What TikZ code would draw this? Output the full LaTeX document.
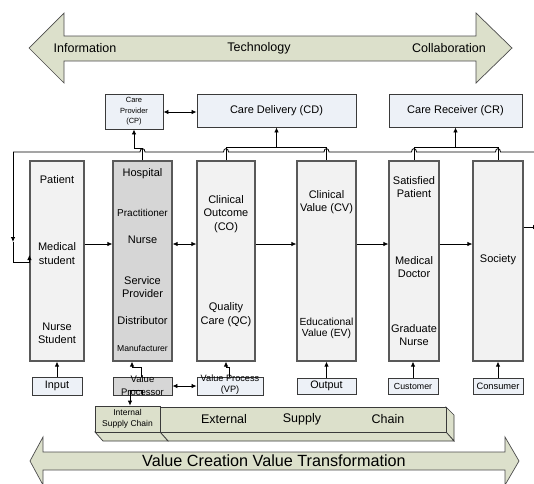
\documentclass[tikz,border=0pt]{standalone}
\usepackage{fontspec}
\setmainfont{Liberation Sans}
\usetikzlibrary{arrows.meta}
\definecolor{olivefill}{HTML}{DCE0CB}
\definecolor{colfill}{HTML}{F2F2F2}
\definecolor{grayfill}{HTML}{D6D6D6}
\definecolor{bluefill}{HTML}{EDF1F7}
\definecolor{edge}{HTML}{3A3A3A}
\tikzset{
  col/.style={draw=black!65, line width=1.2pt, fill=colfill, inner sep=0},
  gcol/.style={col, fill=grayfill},
  topbox/.style={draw=edge, line width=0.9pt, fill=bluefill, inner sep=0, align=center},
  botbox/.style={topbox},
  txt/.style={font=\fontsize{11}{13.5}\selectfont, align=center, inner sep=0},
  conn/.style={draw=black, line width=0.8pt},
  arr/.style={conn, -{Latex[length=5pt,width=4.5pt]}},
  arrtwo/.style={conn, {Latex[length=5pt,width=4.5pt]}-{Latex[length=5pt,width=4.5pt]}},
  bigarrow/.style={draw=black!70, line width=0.7pt, fill=olivefill},
}
\begin{document}
\begin{tikzpicture}[x=1pt,y=-1pt]
\useasboundingbox (0,0) rectangle (534,483);
% top big arrow
\draw[bigarrow] (29,48) -- (64,13) -- (64,36) -- (476,36) -- (476,13) -- (512,48) -- (476,83) -- (476,61) -- (64,61) -- (64,83) -- cycle;
\node[txt, font=\fontsize{12.5}{14}\selectfont] (info) at (85,48) {Information};
\node[txt, font=\fontsize{12.5}{14}\selectfont] (tech) at (259,48) {Technology};
\node[txt, font=\fontsize{12.5}{14}\selectfont] (collab) at (449,48) {Collaboration};
% top boxes
\node[topbox, minimum width=58, minimum height=35, font=\fontsize{7.5}{10.5}\selectfont] (cp) at (134,111.5) {Care\\Provider\\(CP)};
\node[topbox, minimum width=159, minimum height=33, font=\fontsize{11}{13}\selectfont] (cd) at (276.5,110.5) {Care Delivery (CD)};
\node[topbox, minimum width=133, minimum height=33, font=\fontsize{11}{13}\selectfont] (cr) at (455.5,110.5) {Care Receiver (CR)};
\draw[arrtwo] (cp.east |- 0,112) -- (cd.west |- 0,112);
% columns
\node[col, minimum width=54, minimum height=200] (pat) at (57,261) {};
\node[gcol, minimum width=59, minimum height=200] (hosp) at (142.5,261) {};
\node[col, minimum width=58, minimum height=200] (co) at (226,261) {};
\node[col, minimum width=59, minimum height=200] (cv) at (326.5,261) {};
\node[col, minimum width=50, minimum height=200] (sat) at (414,261) {};
\node[col, minimum width=50, minimum height=200] (soc) at (498,261) {};
% column texts
\node[txt] (t1) at (57,180) {Patient};
\node[txt] (t2) at (57,253.5) {Medical\\student};
\node[txt] (t3) at (57,333.5) {Nurse\\Student};
\node[txt] (t4) at (142.5,174) {Hospital};
\node[txt, font=\fontsize{10}{12}\selectfont] (t5) at (142.5,213) {Practitioner};
\node[txt] (t6) at (142.5,240) {Nurse};
\node[txt] (t7) at (142.5,287) {Service\\Provider};
\node[txt] (t8) at (142.5,321) {Distributor};
\node[txt, font=\fontsize{8.6}{10}\selectfont] (t9) at (142.5,348) {Manufacturer};
\node[txt] (t10) at (226,214) {Clinical\\Outcome\\(CO)};
\node[txt] (t11) at (226,314.5) {Quality\\Care (QC)};
\node[txt, font=\fontsize{11}{12.5}\selectfont] (t12) at (326.5,202) {Clinical\\Value (CV)};
\node[txt, font=\fontsize{10.3}{11.5}\selectfont] (t13) at (326.5,328.5) {Educational\\Value (EV)};
\node[txt] (t14) at (414,187) {Satisfied\\Patient};
\node[txt] (t15) at (414,267) {Medical\\Doctor};
\node[txt] (t16) at (414,335) {Graduate\\Nurse};
\node[txt] (t17) at (498,260) {Society};
% horizontal arrows between columns
\draw[arr] (pat.east |- 0,244) -- (hosp.west |- 0,244);
\draw[arrtwo] (hosp.east |- 0,244) -- (co.west |- 0,244);
\draw[arr] (co.east |- 0,244) -- (cv.west |- 0,244);
\draw[arr] (cv.east |- 0,244) -- (sat.west |- 0,244);
\draw[arr] (sat.east |- 0,244) -- (soc.west |- 0,244);
\coordinate (rightend) at (538,227);
\draw[arr] (soc.east |- 0,227) -- (rightend);
% bus line with hops
\coordinate (busleft) at (13,152);
\draw[conn] (busleft) -- (140,152) .. controls (140,147.5) and (145,147.5) .. (145,152)
  -- (223.5,152) .. controls (223.5,147.5) and (228.5,147.5) .. (228.5,152)
  -- (324,152) .. controls (324,147.5) and (329,147.5) .. (329,152)
  -- (411.5,152) .. controls (411.5,147.5) and (416.5,147.5) .. (416.5,152)
  -- (495.5,152) .. controls (495.5,147.5) and (500.5,147.5) .. (500.5,152)
  -- (536,152);
\coordinate (loopmid) at (13,242);
\draw[arr] (busleft) -- (loopmid);
\draw[arr] (loopmid) -- (13,262) -- (29.4,262) -- (29.4,255);
% column tops to upper boxes
\draw[arr] (hosp.north) -- (hosp.north |- 0,148) -| (cp.south);
\draw[conn] (co.north) -- (co.north |- 0,147) -- (cv.north |- 0,147) -- (cv.north);
\coordinate (cdjoin) at (cd.south |- 0,147);
\draw[arr] (cdjoin) -- (cd.south);
\draw[conn] (sat.north) -- (sat.north |- 0,147) -- (soc.north |- 0,147) -- (soc.north);
\coordinate (crjoin) at (cr.south |- 0,147);
\draw[arr] (crjoin) -- (cr.south);
% bottom boxes
\node[botbox, minimum width=50, minimum height=18, font=\fontsize{10.8}{12}\selectfont] (input) at (57,386) {Input};
\node[botbox, fill=grayfill, minimum width=59, minimum height=18, font=\fontsize{9.5}{12.5}\selectfont] (vproc) at (142.5,386) {};
\node[txt, font=\fontsize{9.5}{12.5}\selectfont] (vproct) at (142.5,385.5) {Value\\Processor};
\node[botbox, minimum width=66, minimum height=18] (vp) at (230,386) {};
\node[txt, font=\fontsize{9.2}{11}\selectfont] (vpt) at (230,385) {Value Process\\(VP)};
\node[botbox, minimum width=59, minimum height=16, font=\fontsize{10.8}{12}\selectfont] (output) at (326.5,386) {Output};
\node[botbox, minimum width=50, minimum height=16, font=\fontsize{8.8}{10}\selectfont] (cust) at (413,386) {Customer};
\node[botbox, minimum width=50, minimum height=16, font=\fontsize{9.3}{10}\selectfont] (cons) at (498,386) {Consumer};
\draw[arr] (input.north) -- (pat.south);
\draw[arr] ([xshift=-1]vproc.north) -- ++(0,-9) -| ([xshift=-10.5]hosp.south);
\draw[arr] ([xshift=-1]vp.north) -- ++(0,-9) -| (co.south);
\draw[arrtwo] (vproc.east) -- (vp.west);
\draw[arr] (output.north) -- (cv.south);
\draw[arr] (cust.north) -- (cust.north |- sat.south);
\draw[arr] (cons.north) -- (soc.south);
% supply chain bar
\draw[bigarrow, draw=edge] (446,407) -- (454,415) -- (454,441) -- (446,432) -- cycle;
\draw[bigarrow, draw=edge] (160,432) -- (446,432) -- (454,441) -- (168,441) -- cycle;
\node[bigarrow, draw=edge, minimum width=286, minimum height=25, inner sep=0] (esc) at (303,419.5) {};
\draw[bigarrow, draw=edge] (95,432) -- (160,432) -- (168,441) -- (103,441) -- cycle;
\node[bigarrow, draw=edge, minimum width=65, minimum height=26, inner sep=0, align=center, font=\fontsize{8.5}{11}\selectfont] (isc) at (127.5,419) {Internal\\Supply Chain};
\node[txt, font=\fontsize{12.5}{14}\selectfont] (ext) at (224,419) {External};
\node[txt, font=\fontsize{12.5}{14}\selectfont] (sup) at (302,419) {Supply};
\node[txt, font=\fontsize{12.5}{14}\selectfont] (chain) at (388,419) {Chain};
\draw[arr] ([xshift=-0.5]vproc.south) -- ++(0,-5) -| ([xshift=2.5]isc.north);
% bottom big arrow
\draw[bigarrow] (30,461) -- (43,437) -- (43,452) -- (505,452) -- (505,437) -- (519,461) -- (505,485) -- (505,470) -- (43,470) -- (43,485) -- cycle;
\node[txt, font=\fontsize{16.2}{18}\selectfont] (vcvt) at (274,461) {Value Creation Value Transformation};
\end{tikzpicture}
\end{document}
